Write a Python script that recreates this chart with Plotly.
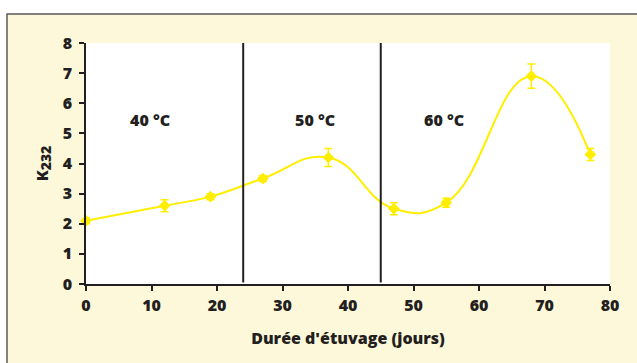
import plotly.graph_objects as go

# Data
days = [0, 12, 19, 27, 37, 47, 55, 68, 77]
k232 = [2.1, 2.6, 2.9, 3.5, 4.2, 2.5, 2.7, 6.9, 4.3]
k232_err = [0.1, 0.2, 0.1, 0.1, 0.3, 0.2, 0.15, 0.4, 0.2]
phase_bounds = [24, 45]
phase_labels = ["40 °C", "50 °C", "60 °C"]
phase_label_x = [9.7, 35, 54.6]
phase_label_y = 5.43
x_ticks = [0, 10, 20, 30, 40, 50, 60, 70, 80]
y_ticks = [0, 1, 2, 3, 4, 5, 6, 7, 8]

YELLOW = "#FFEE00"
DARK = "#231F20"
CREAM = "#FEF8DA"
FONT = "Open Sans"

W, H = 637, 363
L, R, T, B = 86, 27, 43, 79
pw, ph = W - L - R, H - T - B

def px_to_paper_x(px):
    return (px - L) / pw

def px_to_paper_y(py):
    return (H - B - py) / ph

fig = go.Figure()
fig.add_trace(go.Scatter(
    x=days, y=k232,
    mode="lines+markers",
    line=dict(color=YELLOW, width=2, shape="spline", smoothing=1.3),
    marker=dict(symbol="diamond", size=9, color=YELLOW),
    error_y=dict(type="data", array=k232_err, visible=True,
                 color=YELLOW, thickness=1.5, width=4),
    showlegend=False,
    cliponaxis=False,
))

shapes = [
    dict(type="rect", xref="paper", yref="paper", layer="below",
         x0=px_to_paper_x(7), x1=px_to_paper_x(W + 5),
         y0=px_to_paper_y(H + 5), y1=px_to_paper_y(14),
         fillcolor=CREAM, line=dict(color="#5a5a5a", width=1.5)),
    dict(type="rect", xref="x", yref="y", layer="below",
         x0=0, x1=80, y0=0, y1=8,
         fillcolor="white", line=dict(width=0)),
]
for b in phase_bounds:
    shapes.append(dict(type="line", xref="x", yref="y", x0=b, x1=b, y0=0.05, y1=8,
                       line=dict(color=DARK, width=2)))

bold = dict(family=FONT, size=16, color=DARK, weight=800)

annotations = []
for lbl, lx in zip(phase_labels, phase_label_x):
    annotations.append(dict(x=lx, y=phase_label_y, xref="x", yref="y", text=lbl,
                            showarrow=False, font=bold))

fig.update_layout(
    width=W, height=H,
    margin=dict(l=L, r=R, t=T, b=B),
    paper_bgcolor="white",
    plot_bgcolor="white",
    shapes=shapes,
    annotations=annotations,
    xaxis=dict(
        range=[0, 80], tickvals=x_ticks, showgrid=False, zeroline=False,
        showline=True, linecolor=DARK, linewidth=1.5,
        ticks="outside", ticklen=5, tickwidth=1.5, tickcolor=DARK,
        ticklabelstandoff=1,
        tickfont=bold,
        title=dict(text="Durée d'étuvage (jours)", standoff=18, font=bold),
    ),
    yaxis=dict(
        range=[0, 8], tickvals=y_ticks, showgrid=False, zeroline=False,
        showline=True, linecolor=DARK, linewidth=1.5,
        ticks="outside", ticklen=5, tickwidth=1.5, tickcolor=DARK,
        ticklabelstandoff=4,
        tickfont=bold,
        title=dict(text="K<sub><span style='font-size:14px'>232</span></sub>",
                   standoff=10, font=bold),
    ),
)

fig.write_html("out.html",
               config={"displayModeBar": False},
               post_script="document.body.style.margin='0px';document.body.style.padding='0px';")
